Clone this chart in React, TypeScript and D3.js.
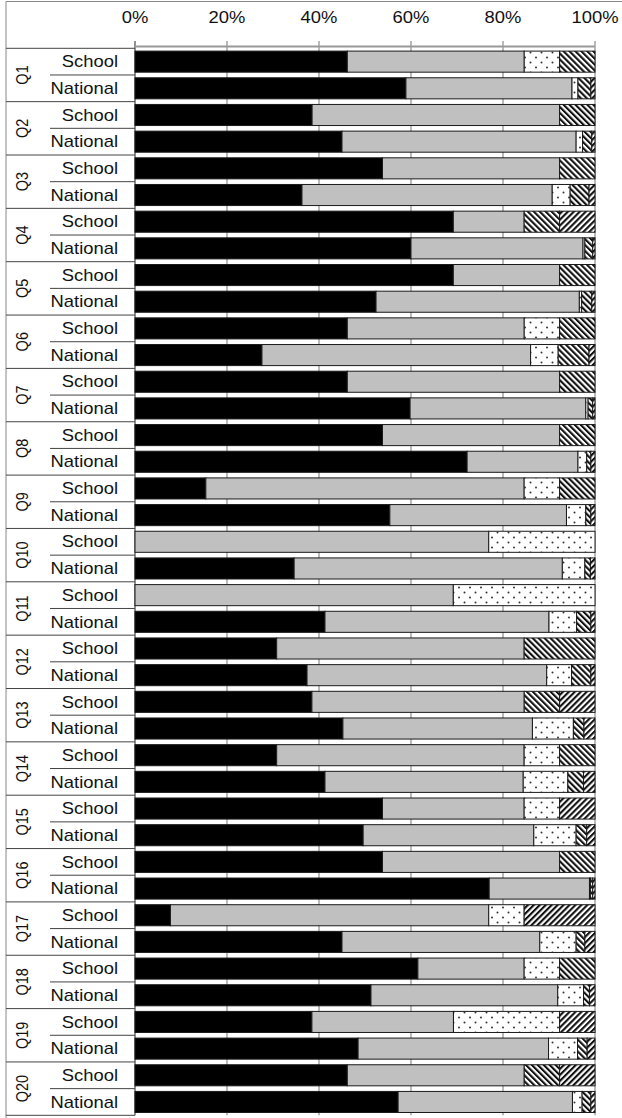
import * as d3 from "d3";

const questions = ["Q1","Q2","Q3","Q4","Q5","Q6","Q7","Q8","Q9","Q10","Q11","Q12","Q13","Q14","Q15","Q16","Q17","Q18","Q19","Q20"];
const groups = ["School", "National"];
const keys = ["solid", "grey", "dots", "down", "up"];

// school values (% of 13 answers)
const schoolSolid = [46.2,38.5,53.8,69.2,69.2,46.2,46.2,53.8,15.4,0,0,30.8,38.5,30.8,53.8,53.8,7.7,61.5,38.5,46.2];
const schoolGrey = [38.5,53.8,38.5,15.4,23.1,38.5,46.2,38.5,69.2,76.9,69.2,53.8,46.2,53.8,30.8,38.5,69.2,23.1,30.8,38.5];
const schoolDots = [7.7,0,0,0,0,7.7,0,0,7.7,23.1,30.8,0,0,7.7,7.7,0,7.7,7.7,23.1,0];
const schoolDown = [7.7,7.7,7.7,7.7,7.7,7.7,7.7,7.7,7.7,0,0,15.4,7.7,7.7,0,7.7,0,7.7,0,7.7];
const schoolUp = [0,0,0,7.7,0,0,0,0,0,0,0,0,7.7,0,7.7,0,15.4,0,7.7,7.7];

// national values (%)
const nationalSolid = [58.9,45.0,36.3,60.0,52.4,27.6,59.8,72.2,55.4,34.6,41.3,37.4,45.2,41.3,49.6,77.0,45.0,51.3,48.5,57.2];
const nationalGrey = [36.1,50.9,54.4,37.4,44.2,58.4,38.2,24.1,38.4,58.3,48.7,52.1,41.2,43.1,37.1,21.8,43.0,40.6,41.4,37.9];
const nationalDots = [1.3,1.4,3.9,0.4,0.5,6.0,0.5,1.9,4.2,4.9,6.0,5.4,8.9,9.7,9.2,0.2,7.9,5.6,6.3,2.1];
const nationalDown = [2.8,2.0,4.1,1.7,2.2,6.7,1.0,0.9,1.1,1.2,3.1,4.2,2.3,3.4,2.3,0.5,1.9,1.3,2.1,1.9];
const nationalUp = [0.9,0.7,1.3,0.5,0.7,1.3,0.5,0.9,0.9,1.0,0.9,0.9,2.4,2.5,1.8,0.5,2.2,1.2,1.7,0.9];

const fills: Record<string, string> = {
  solid: "#000",
  grey: "#c0c0c0",
  dots: "url(#dots)",
  down: "url(#down)",
  up: "url(#up)",
};

const W = 622;
const H = 1118;
const top = 48.3;
const bottom = 1115.3;
const font = "'Liberation Sans', Arial, sans-serif";
const stretch = 1.15;

export default function App() {
  const table: any[] = [];
  questions.forEach((q, i) => {
    table.push({ id: q + "|School", q, group: "School", solid: schoolSolid[i], grey: schoolGrey[i], dots: schoolDots[i], down: schoolDown[i], up: schoolUp[i] });
    table.push({ id: q + "|National", q, group: "National", solid: nationalSolid[i], grey: nationalGrey[i], dots: nationalDots[i], down: nationalDown[i], up: nationalUp[i] });
  });

  const series = d3.stack<any>().keys(keys).offset(d3.stackOffsetExpand)(table);

  const x = d3.scaleLinear([0, 1], [135, 595]);
  const y = d3.scaleBand<string>(table.map((d) => d.id), [top, bottom]).paddingInner(0.21).paddingOuter(0.105);
  const yq = d3.scaleBand<string>(questions, [top, bottom]);
  const fmt = d3.format(".0%");
  const ticks = x.ticks(5);

  return (
    <svg width={W} height={H} style={{ position: "absolute", left: 0, top: 0, background: "#fff" }}>
      <defs>
        <pattern id="dots" width={11} height={10} patternUnits="userSpaceOnUse">
          <rect width={11} height={10} fill="#fff" />
          <circle cx={2.5} cy={2.5} r={1} fill="#333" />
          <circle cx={8} cy={7.5} r={1} fill="#333" />
        </pattern>
        <pattern id="down" width={4.2} height={10} patternUnits="userSpaceOnUse" patternTransform="rotate(-45)">
          <rect width={4.2} height={10} fill="#fff" />
          <rect width={2.1} height={10} fill="#111" />
        </pattern>
        <pattern id="up" width={4.2} height={10} patternUnits="userSpaceOnUse" patternTransform="rotate(45)">
          <rect width={4.2} height={10} fill="#fff" />
          <rect width={2.1} height={10} fill="#111" />
        </pattern>
      </defs>

      {/* frame */}
      <line x1={6} x2={W} y1={1.5} y2={1.5} stroke="#888" />
      <line x1={6} x2={6} y1={1.5} y2={H} stroke="#888" />

      {/* grid */}
      {ticks.map((t) => (
        <g key={t}>
          <line x1={x(t)} x2={x(t)} y1={41} y2={bottom} stroke={t === 0 ? "#222" : "#777"} />
          <text
            transform={`translate(${x(t)},23) scale(${stretch},1)`}
            textAnchor="middle"
            fontFamily={font}
            fontSize={16}
            fill="#111"
          >
            {fmt(t)}
          </text>
        </g>
      ))}
      <line x1={135} x2={595} y1={46.5} y2={46.5} stroke="#999" strokeWidth={2} />

      {/* bars */}
      {series.map((s) => (
        <g key={s.key} fill={fills[s.key]} stroke="#1a1a1a" strokeWidth={1}>
          {s.map((d: any) =>
            d[1] - d[0] > 0.0005 ? (
              <rect
                key={d.data.id}
                x={x(d[0])}
                y={y(d.data.id)}
                width={x(d[1]) - x(d[0])}
                height={y.bandwidth()}
              />
            ) : null
          )}
        </g>
      ))}

      {/* category labels */}
      {questions.map((q) => {
        const y0 = yq(q)!;
        const h = yq.bandwidth();
        return (
          <g key={q}>
            <line x1={6} x2={135} y1={y0} y2={y0} stroke="#444" />
            <line x1={50} x2={135} y1={y0 + h / 2} y2={y0 + h / 2} stroke="#444" />
            <text
              transform={`translate(28,${y0 + h / 2}) scale(${stretch},1) rotate(-90)`}
              textAnchor="middle"
              fontFamily={font}
              fontSize={14.5}
              fill="#111"
            >
              {q}
            </text>
            {groups.map((g) => {
              const id = q + "|" + g;
              const cy = y(id)! + y.bandwidth() / 2;
              return (
                <text
                  key={g}
                  transform={`translate(118,${cy + 5.7}) scale(${stretch},1)`}
                  textAnchor="end"
                  fontFamily={font}
                  fontSize={16}
                  fill="#111"
                >
                  {g}
                </text>
              );
            })}
          </g>
        );
      })}
      <line x1={6} x2={135} y1={bottom} y2={bottom} stroke="#444" />
    </svg>
  );
}
